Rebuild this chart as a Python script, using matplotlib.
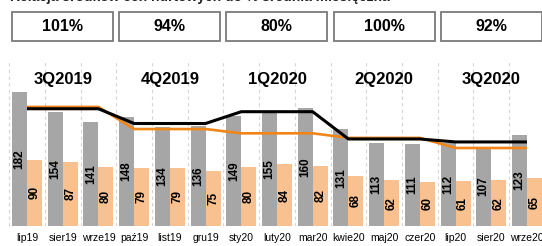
import matplotlib.pyplot as plt
import numpy as np
from matplotlib.patches import Rectangle

months = ["lip19", "sier19", "wrze19", "paź19", "list19", "gru19", "sty20", "luty20",
          "mar20", "kwie20", "maj20", "czer20", "lip20", "sier20", "wrze20"]
gray_vals = [182, 154, 141, 148, 134, 136, 149, 155, 160, 131, 113, 111, 112, 107, 123]
orange_vals = [90, 87, 80, 79, 79, 75, 80, 84, 82, 68, 62, 60, 61, 62, 65]
black_line = [159, 159, 159, 139, 139, 139, 155, 155, 155, 118, 118, 118, 114, 114, 114]
orange_line = [161.5, 161.5, 161.5, 131.5, 131.5, 131.5, 125.7, 125.7, 125.7,
               119.5, 119.5, 119.5, 105.8, 105.8, 105.8]
quarters = ["3Q2019", "4Q2019", "1Q2020", "2Q2020", "3Q2020"]
quarter_pos = [1, 4, 7, 10, 13]
box_texts = ["101%", "94%", "80%", "100%", "92%"]

GRAY = "#A6A6A6"
PEACH = "#F9C190"
ORANGE = "#F0861A"


def main():
    plt.rcParams['font.family'] = ['Liberation Sans', 'DejaVu Sans']
    fig = plt.figure(figsize=(5.42, 2.46), dpi=100)
    ax = fig.add_axes([0, 20 / 246, 1, 164 / 246])

    x = np.arange(len(months))
    w = 0.42
    ax.bar(x - w / 2, gray_vals, w, color=GRAY, zorder=2)
    ax.bar(x + w / 2, orange_vals, w, color=PEACH, zorder=2)

    for i in x:
        ax.text(i - w / 2, gray_vals[i] / 2, str(gray_vals[i]), rotation=90,
                ha='center', va='center', fontsize=8.5, fontweight='bold', zorder=3)
        ax.text(i + w / 2, orange_vals[i] / 2, str(orange_vals[i]), rotation=90,
                ha='center', va='center', fontsize=8.5, fontweight='bold', zorder=3)

    ax.plot(x, orange_line, color=ORANGE, lw=1.9, zorder=4, solid_capstyle='butt')
    ax.plot(x, black_line, color="black", lw=2.2, zorder=5, solid_capstyle='butt')

    for g in np.arange(-0.5, len(months), 1):
        ax.axvline(g, color="#D4D4D4", lw=0.8, ls=(0, (3, 3)), zorder=1)

    for q, p in zip(quarters, quarter_pos):
        ax.text(p, 199, q, ha='center', va='center', fontsize=12, fontweight='bold')

    ax.set_xlim(-27 / 35.71, (542 - 27) / 35.71)
    ax.set_ylim(0, 222.4)
    ax.set_xticks(x)
    ax.set_xticklabels(months, fontsize=7.5)
    ax.tick_params(axis='x', length=0, pad=5)
    ax.set_yticks([])
    for s in ax.spines.values():
        s.set_visible(False)

    # boxes with percentages
    W, H = 542, 246
    for k, t in enumerate(box_texts):
        x0 = 12 + 107.2 * k
        rect = Rectangle((x0 / W, 1 - 41 / H), 101 / W, 29 / H, transform=fig.transFigure,
                         facecolor="white", edgecolor="#7A7A7A", lw=1.3)
        fig.patches.append(rect)
        fig.text((x0 + 50.5) / W, 1 - 26.5 / H, t, ha='center', va='center',
                 fontsize=11.5, fontweight='bold')

    # title line, cut off at the top of the picture
    fig.text(10 / W, 1 - 1.5 / H, "Relacja środków cen hurtowych do % średnia miesięczna",
             ha='left', va='baseline', fontsize=10, fontweight='bold', color="#222222")

    fig.savefig("out.png", dpi=100)


if __name__ == "__main__":
    main()
